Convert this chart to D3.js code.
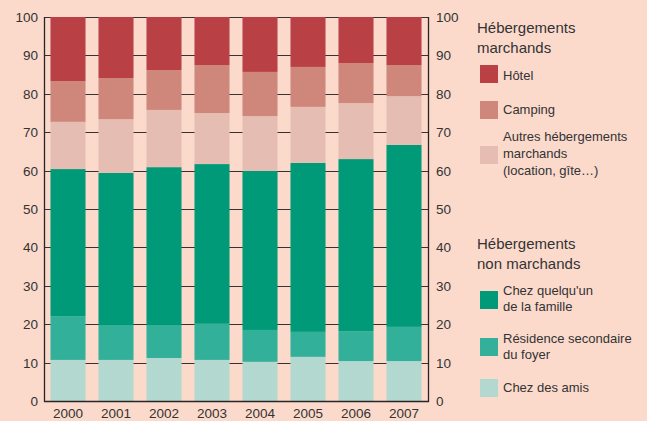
<!DOCTYPE html>
<html>
<head>
<meta charset="utf-8">
<script src="https://cdn.jsdelivr.net/npm/d3@7"></script>
<style>
  body { margin: 0; background: #fbdacc; }
  svg { display: block; font-family: "Liberation Sans", Arial, sans-serif; }
  .tick-label { font-size: 13.5px; fill: #333; }
  .legend-title { font-size: 15px; fill: #333; }
  .legend-item { font-size: 13px; fill: #333; }
</style>
</head>
<body>
<div id="chart"></div>
<script>
// years on the x axis
const years = ["2000", "2001", "2002", "2003", "2004", "2005", "2006", "2007"];

// stacked from the bottom up (in %)
const chezAmis   = [10.7, 10.7, 11.2, 10.7, 10.2, 11.5, 10.4, 10.4];
const residence  = [11.4,  9.1,  8.6,  9.4,  8.3,  6.5,  7.8,  8.9];
const famille    = [38.3, 39.6, 41.1, 41.6, 41.4, 44.0, 44.8, 47.4];
const autres     = [12.3, 14.0, 14.9, 13.3, 14.3, 14.6, 14.6, 12.7];
const camping    = [10.6, 10.7, 10.4, 12.5, 11.5, 10.4, 10.4,  8.1];
const hotel      = [16.7, 15.9, 13.8, 12.5, 14.3, 13.0, 12.0, 12.5];

const yTicks = [0, 10, 20, 30, 40, 50, 60, 70, 80, 90, 100];

const seriesKeys = ["amis", "residence", "famille", "autres", "camping", "hotel"];
const seriesColors = {
    amis: "#b2d8cf",
    residence: "#33b09a",
    famille: "#009a78",
    autres: "#e5bdb2",
    camping: "#d0877b",
    hotel: "#b94045"
};

// build table for d3.stack
const table = years.map((y, i) => ({
    year: y,
    amis: chezAmis[i],
    residence: residence[i],
    famille: famille[i],
    autres: autres[i],
    camping: camping[i],
    hotel: hotel[i]
}));

const width = 647, height = 421;
const plot = {left: 44, right: 428, top: 17, bottom: 401};

const svg = d3.select("#chart").append("svg")
    .attr("width", width)
    .attr("height", height);

svg.append("rect")
    .attr("width", width)
    .attr("height", height)
    .attr("fill", "#fbdacc");

const x = d3.scaleBand()
    .domain(years)
    .range([plot.left, plot.right])
    .paddingInner(0.27)
    .paddingOuter(0.135);

const y = d3.scaleLinear()
    .domain([0, 100])
    .range([plot.bottom, plot.top]);

// gridlines behind bars
svg.append("g")
    .selectAll("line")
    .data(yTicks)
    .join("line")
    .attr("x1", plot.left)
    .attr("x2", plot.right)
    .attr("y1", d => Math.round(y(d)) + 0.5)
    .attr("y2", d => Math.round(y(d)) + 0.5)
    .attr("stroke", "#3a3030")
    .attr("stroke-width", 1.2);

// stacked bars
const stacked = d3.stack().keys(seriesKeys)(table);

svg.append("g")
    .selectAll("g")
    .data(stacked)
    .join("g")
    .attr("fill", d => seriesColors[d.key])
    .selectAll("rect")
    .data(d => d)
    .join("rect")
    .attr("x", d => x(d.data.year))
    .attr("width", x.bandwidth())
    .attr("y", d => y(d[1]))
    .attr("height", d => y(d[0]) - y(d[1]));

// axes lines
const axisColor = "#2b2424";
svg.append("line")
    .attr("x1", plot.left + 0.5).attr("x2", plot.left + 0.5)
    .attr("y1", plot.top).attr("y2", plot.bottom + 1)
    .attr("stroke", axisColor).attr("stroke-width", 1.3);
svg.append("line")
    .attr("x1", plot.right + 0.5).attr("x2", plot.right + 0.5)
    .attr("y1", plot.top).attr("y2", plot.bottom + 1)
    .attr("stroke", axisColor).attr("stroke-width", 1.3);
svg.append("line")
    .attr("x1", plot.left).attr("x2", plot.right + 1)
    .attr("y1", plot.bottom + 0.5).attr("y2", plot.bottom + 0.5)
    .attr("stroke", axisColor).attr("stroke-width", 1.3);

// left tick labels
svg.append("g")
    .selectAll("text")
    .data(yTicks)
    .join("text")
    .attr("class", "tick-label")
    .attr("x", plot.left - 6)
    .attr("y", d => y(d) + 5)
    .attr("text-anchor", "end")
    .text(d => d);

// right tick labels
svg.append("g")
    .selectAll("text")
    .data(yTicks)
    .join("text")
    .attr("class", "tick-label")
    .attr("x", plot.right + 8)
    .attr("y", d => y(d) + 5)
    .attr("text-anchor", "start")
    .text(d => d);

// year labels
svg.append("g")
    .selectAll("text")
    .data(years)
    .join("text")
    .attr("class", "tick-label")
    .attr("x", d => x(d) + x.bandwidth() / 2)
    .attr("y", 418)
    .attr("text-anchor", "middle")
    .text(d => d);

// legend
const legend = svg.append("g");

function addTitle(lines, y0) {
    lines.forEach((t, i) => {
        legend.append("text")
            .attr("class", "legend-title")
            .attr("x", 477)
            .attr("y", y0 + i * 20)
            .text(t);
    });
}

function addItem(key, lines, sqY, textY, lineH) {
    legend.append("rect")
        .attr("x", 480).attr("y", sqY)
        .attr("width", 18).attr("height", 18)
        .attr("fill", seriesColors[key]);
    lines.forEach((t, i) => {
        legend.append("text")
            .attr("class", "legend-item")
            .attr("x", 503)
            .attr("y", textY + i * lineH)
            .text(t);
    });
}

addTitle(["Hébergements", "marchands"], 33);
addItem("hotel", ["Hôtel"], 65, 80, 17);
addItem("camping", ["Camping"], 101, 114, 17);
addItem("autres", ["Autres hébergements", "marchands", "(location, gîte…)"], 146, 141, 17);

addTitle(["Hébergements", "non marchands"], 249);
addItem("famille", ["Chez quelqu'un", "de la famille"], 291, 295, 15.5);
addItem("residence", ["Résidence secondaire", "du foyer"], 338, 343, 15.5);
addItem("amis", ["Chez des amis"], 379, 392, 15.5);
</script>
</body>
</html>
